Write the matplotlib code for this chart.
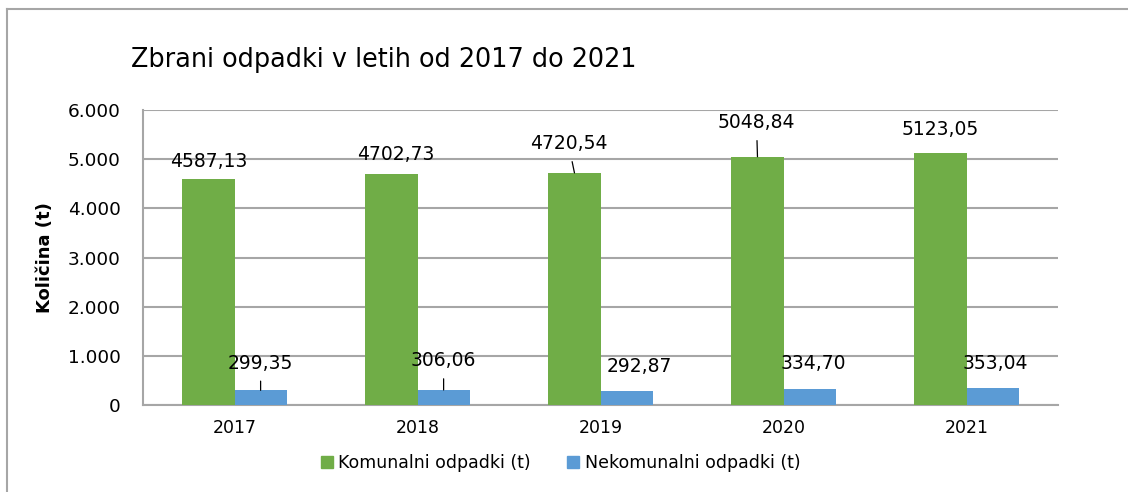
import numpy as np
import matplotlib
matplotlib.use('Agg')
import matplotlib.pyplot as plt
from matplotlib.ticker import FuncFormatter
from matplotlib.patches import Patch

years = ['2017', '2018', '2019', '2020', '2021']
komunalni = [4587.13, 4702.73, 4720.54, 5048.84, 5123.05]
nekomunalni = [299.35, 306.06, 292.87, 334.70, 353.04]

green = '#70AD47'
blue = '#5B9BD5'
grid = '#A6A6A6'

plt.rcParams['font.family'] = 'DejaVu Sans'

fig = plt.figure(figsize = (11.28, 4.92), dpi = 100)
ax = fig.add_axes([0.1268, 0.1768, 0.8112, 0.5996])

x = np.arange(len(years))
w = 0.285
b1 = ax.bar(x - w / 2, komunalni, w, color = green, zorder = 3, label = 'Komunalni odpadki (t)')
b2 = ax.bar(x + w / 2, nekomunalni, w, color = blue, zorder = 3, label = 'Nekomunalni odpadki (t)')

ax.set_xlim(-0.5, 4.5)
ax.set_ylim(0, 6000)
ax.set_yticks(range(0, 6001, 1000))
ax.yaxis.set_major_formatter(FuncFormatter(lambda v, p: '{:,.0f}'.format(v).replace(',', '.')))
ax.set_xticks(x)
ax.set_xticklabels(years)
ax.tick_params(length = 0, labelsize = 12.5, colors = 'black')
ax.tick_params(axis = 'y', pad = 16, labelsize = 13.3)
ax.tick_params(axis = 'x', pad = 10)
ax.yaxis.grid(True, color = grid, linewidth = 1.5, zorder = 0)
for s in ['top', 'right']:
    ax.spines[s].set_visible(False)
for s in ['left', 'bottom']:
    ax.spines[s].set_color(grid)
    ax.spines[s].set_linewidth(1.5)

ax.set_ylabel('Količina (t)', fontsize = 13, fontweight = 'bold', labelpad = 10)

def fmt(v):
    return '{:.2f}'.format(v).replace('.', ',')

# label offsets in pixels, and whether a leader line is drawn
g_off = [(0, 18), (4, 19), (-6, 29), (-1, 34), (0, 24)]
g_lead = [False, False, True, True, False]
b_off = [(0, 27), (0, 29), (13, 24), (4, 25), (3, 24)]
b_lead = [True, True, False, False, False]

for bars, vals, offs, leads in [(b1, komunalni, g_off, g_lead), (b2, nekomunalni, b_off, b_lead)]:
    for bar, v, off, lead in zip(bars, vals, offs, leads):
        xc = bar.get_x() + bar.get_width() / 2
        ap = dict(arrowstyle = '-', color = 'black', lw = 0.9, shrinkA = 4, shrinkB = 0) if lead else None
        ax.annotate(fmt(v), xy = (xc, v), xytext = off, textcoords = 'offset pixels',
                    ha = 'center', va = 'center', fontsize = 13.5, arrowprops = ap, zorder = 4)

fig.text(0.116, 0.878, 'Zbrani odpadki v letih od 2017 do 2021', fontsize = 18.4, va = 'center', ha = 'left')

handles = [Patch(color = green), Patch(color = blue)]
fig.legend(handles, ['Komunalni odpadki (t)', 'Nekomunalni odpadki (t)'], loc = 'center',
           bbox_to_anchor = (0.497, 0.059), ncol = 2, frameon = False, fontsize = 12.5,
           handlelength = 0.7, handleheight = 0.7, handletextpad = 0.3, columnspacing = 2.1)

# outer chart frame
fig.add_artist(plt.Line2D([7 / 1128, 7 / 1128], [0, 1 - 9 / 492], color = grid, lw = 1.5))
fig.add_artist(plt.Line2D([7 / 1128, 1], [1 - 9 / 492, 1 - 9 / 492], color = grid, lw = 1.5))

fig.savefig('out.png', dpi = 100, facecolor = 'white')
